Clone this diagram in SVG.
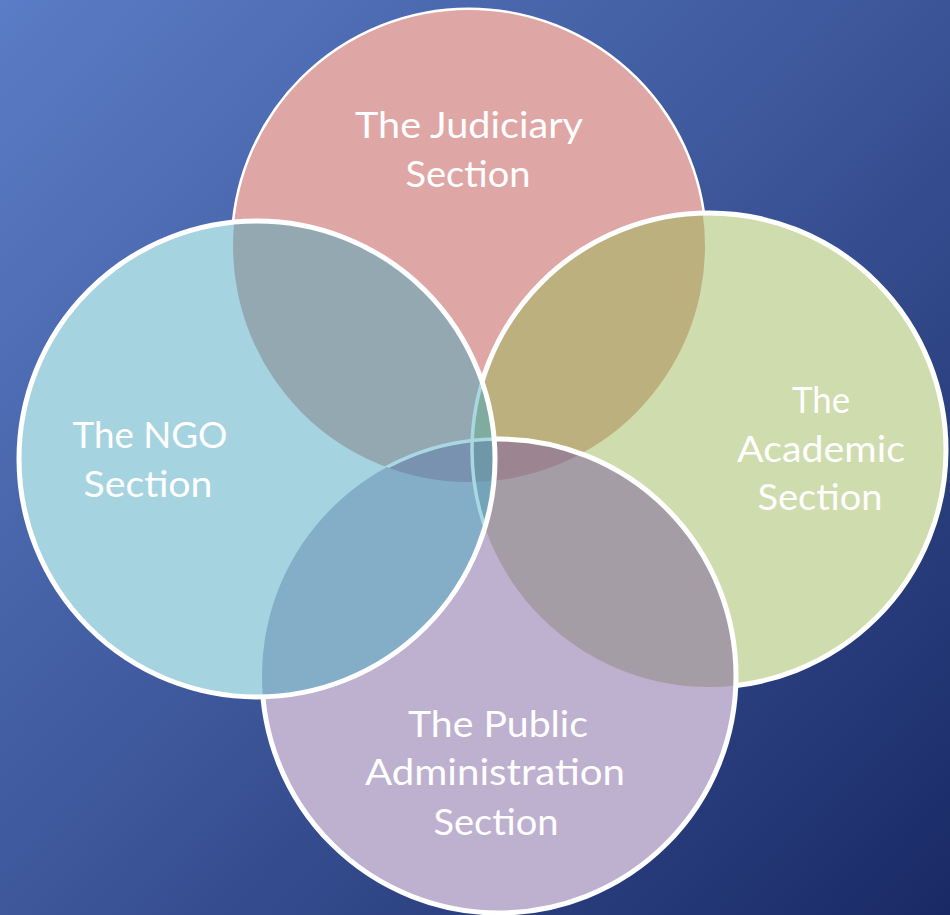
<svg xmlns="http://www.w3.org/2000/svg" width="950" height="915" viewBox="0 0 950 915">
<style>
.lbl{font-family:Lato,"Open Sans","Liberation Sans",sans-serif;font-size:37px;fill:#ffffff;text-anchor:middle}
.ws{fill:none;stroke:#ffffff;stroke-width:5}
.ls{fill:none;stroke:#a9d8e3;stroke-width:3.5}
</style>
<defs>
<linearGradient id="bg" gradientUnits="userSpaceOnUse" x1="0" y1="0" x2="950" y2="915">
<stop offset="0" stop-color="#5b7cc6"/>
<stop offset="0.5" stop-color="#3c5699"/>
<stop offset="1" stop-color="#192966"/>
</linearGradient>
<circle id="cJ" cx="469" cy="246" r="236"/>
<circle id="cN" cx="257" cy="459" r="238"/>
<circle id="cA" cx="709" cy="450" r="237"/>
<circle id="cP" cx="499" cy="676" r="237"/>
<clipPath id="inJ"><use href="#cJ"/></clipPath>
<clipPath id="inN"><use href="#cN"/></clipPath>
<clipPath id="inA"><use href="#cA"/></clipPath>
<clipPath id="inP"><use href="#cP"/></clipPath>
</defs>
<rect width="950" height="915" fill="url(#bg)"/>

<g id="judiciary">
<use href="#cJ" fill="#dfa6a6" class="ws"/>
<use href="#cJ" fill="#dfa6a6"/>
<text class="lbl" x="469" y="138" textLength="228" lengthAdjust="spacingAndGlyphs">The Judiciary</text>
<text class="lbl" x="468" y="187" textLength="125" lengthAdjust="spacingAndGlyphs">Section</text>
</g>

<g id="academic">
<use href="#cA" fill="#cfdcad"/>
<g clip-path="url(#inA)"><use href="#cJ" fill="#bcb07e"/></g>
<use href="#cA" class="ws"/>
<text class="lbl" x="821" y="413" textLength="58" lengthAdjust="spacingAndGlyphs">The</text>
<text class="lbl" x="821" y="462" textLength="168" lengthAdjust="spacingAndGlyphs">Academic</text>
<text class="lbl" x="820" y="510" textLength="125" lengthAdjust="spacingAndGlyphs">Section</text>
</g>

<g id="public-administration">
<use href="#cP" fill="#beb0cf"/>
<g clip-path="url(#inP)">
<use href="#cA" fill="#a59da5"/>
<use href="#cJ" fill="#9c8590"/>
</g>
<use href="#cP" class="ws"/>
<text class="lbl" x="498" y="737" textLength="180" lengthAdjust="spacingAndGlyphs">The Public</text>
<text class="lbl" x="495" y="785" textLength="260" lengthAdjust="spacingAndGlyphs">Administration</text>
<text class="lbl" x="496" y="835" textLength="125" lengthAdjust="spacingAndGlyphs">Section</text>
</g>

<g id="ngo">
<use href="#cN" fill="#a5d4e0"/>
<g clip-path="url(#inN)">
<use href="#cJ" fill="#94a8b2"/>
<use href="#cP" fill="#84adc8"/>
<g clip-path="url(#inJ)"><use href="#cP" fill="#7892b0"/></g>
<g clip-path="url(#inA)">
<use href="#cJ" fill="#80aca0"/>
<use href="#cP" fill="#74a4ba"/>
<g clip-path="url(#inJ)"><use href="#cP" fill="#6e98a8"/></g>
</g>
<use href="#cA" class="ls"/>
<g clip-path="url(#inJ)"><use href="#cP" class="ls"/></g>
</g>
<use href="#cN" class="ws"/>
<text class="lbl" x="150" y="448" textLength="155" lengthAdjust="spacingAndGlyphs">The NGO</text>
<text class="lbl" x="148" y="497" textLength="129" lengthAdjust="spacingAndGlyphs">Section</text>
</g>
</svg>
